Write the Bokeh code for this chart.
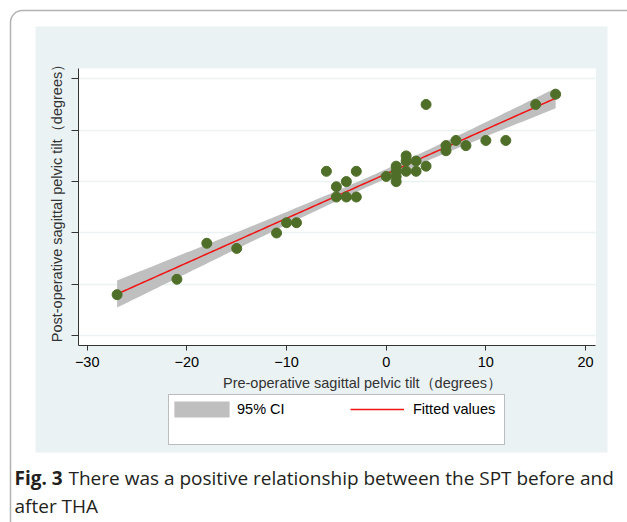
import numpy as np
from bokeh.plotting import figure
from bokeh.models import (BoxAnnotation, Label, Legend, LegendItem, FixedTicker,
                          Range1d, LinearAxis, Grid)
from bokeh.embed import file_html
from bokeh.resources import INLINE

# ---- data ----
pre_spt = [-27, -21, -18, -15, -11, -10, -9, -6, -5, -5, -4, -4, -3, -3, 0,
           1, 1, 1, 1, 2, 2, 2, 3, 3, 4, 4, 6, 6, 7, 8, 10, 12, 15, 17]
post_spt = [-22, -19, -12, -13, -10, -8, -8, 2, -1, -3, 0, -3, 2, -3, 1,
            3, 2, 1, 0, 5, 4, 2, 4, 2, 15, 3, 7, 6, 8, 7, 8, 8, 15, 17]
x_ticks = [-30, -20, -10, 0, 10, 20]
y_ticks = [-30, -20, -10, 0, 10, 20]
x_title = "Pre-operative sagittal pelvic tilt（degrees）"
y_title = "Post-operative sagittal pelvic tilt（degrees）"
legend_labels = ["95% CI", "Fitted values"]
caption_bold = "Fig. 3"
caption_line1 = "There was a positive relationship between the SPT before and"
caption_line2 = "after THA"

# ---- linear fit with 95% CI of the mean ----
x = np.array(pre_spt, dtype=float)
y = np.array(post_spt, dtype=float)
n = len(x)
b, a = np.polyfit(x, y, 1)
resid = y - (a + b * x)
s = np.sqrt(np.sum(resid ** 2) / (n - 2))
sxx = np.sum((x - x.mean()) ** 2)
t975 = 2.0369
xg = np.linspace(x.min(), x.max(), 120)
yhat = a + b * xg
half = t975 * s * np.sqrt(1.0 / n + (xg - x.mean()) ** 2 / sxx)

BG = "#eaf2f3"
FONT = "Liberation Sans"
W, H = 627, 522
# plot region (data units) and whole-canvas ranges
XLO, XHI = -30.87, 21.04
YLO, YHI = -31.9, 22.0

p = figure(width=W, height=H, output_backend="svg", toolbar_location=None,
           x_range=Range1d(-38.70, 24.21), y_range=Range1d(-66.32, 35.23),
           x_axis_type=None, y_axis_type=None,
           min_border=0, min_border_left=0, min_border_right=0,
           min_border_top=0, min_border_bottom=0,
           background_fill_color="white", border_fill_color="white",
           outline_line_color=None)

def canvas_box(l, r, t, btm, **kw):
    return BoxAnnotation(left=l, right=r, top=t, bottom=btm,
                         left_units="canvas", right_units="canvas",
                         top_units="canvas", bottom_units="canvas", **kw)

# light graph region and white plot region
p.add_layout(canvas_box(35, 607, 26, 452, fill_color=BG, fill_alpha=1,
                        line_alpha=0, level="underlay"))
p.add_layout(BoxAnnotation(left=XLO, right=XHI, bottom=YLO, top=YHI,
                           fill_color="white", fill_alpha=1, line_alpha=0,
                           level="underlay"))
p.add_layout(Grid(dimension=1, ticker=FixedTicker(ticks=y_ticks),
                  bounds=(YLO, YHI), cross_bounds=(XLO, XHI),
                  grid_line_color=BG, grid_line_width=1.5))

xaxis = LinearAxis(fixed_location=YLO, bounds=(XLO, XHI),
                   ticker=FixedTicker(ticks=x_ticks))
yaxis = LinearAxis(fixed_location=XLO, bounds=(YLO, YHI),
                   ticker=FixedTicker(ticks=y_ticks),
                   major_label_overrides={t: "" for t in y_ticks})
for ax in (xaxis, yaxis):
    ax.axis_line_color = "#333333"
    ax.major_tick_line_color = "#333333"
    ax.minor_tick_line_color = None
    ax.major_tick_in = 0
xaxis.major_tick_out = 5
yaxis.major_tick_out = 7
xaxis.major_label_text_font = FONT
xaxis.major_label_text_font_size = "14.5px"
xaxis.major_label_text_color = "black"
xaxis.major_label_standoff = 6
p.add_layout(xaxis, "below")
p.add_layout(yaxis, "left")

band = p.varea(x=xg, y1=yhat - half, y2=yhat + half, fill_color="#bfbfbf")
fit = p.line(xg, yhat, line_color="#f01414", line_width=1.5)
p.scatter(pre_spt, post_spt, size=10, fill_color="#4f6f28", line_color="#4f6f28")

# legend box
p.add_layout(canvas_box(168, 504, 394, 444, fill_color="white", fill_alpha=1,
                        line_color="#333333", line_width=1))
common = dict(orientation="horizontal", padding=0, margin=0, border_line_alpha=0,
              background_fill_alpha=0, label_text_font=FONT,
              label_text_font_size="14.5px", label_text_color="black")
legend_ci = Legend(items=[LegendItem(label=legend_labels[0], renderers=[band])],
                   location=(167, 103), glyph_width=69, glyph_height=20,
                   label_standoff=1, **common)
legend_fit = Legend(items=[LegendItem(label=legend_labels[1], renderers=[fit])],
                    location=(350, 105), glyph_width=54, glyph_height=16,
                    label_standoff=9, **common)
p.add_layout(legend_ci, "center")
p.add_layout(legend_fit, "center")

# axis titles
p.add_layout(Label(x=362, y=382, x_units="canvas", y_units="canvas", text=x_title,
                   text_align="center", text_baseline="middle", text_font=FONT,
                   text_font_size="14.5px", text_color="#333333"))
p.add_layout(Label(x=56, y=199, x_units="canvas", y_units="canvas", text=y_title,
                   angle=np.pi / 2, text_align="center", text_baseline="middle",
                   text_font=FONT, text_font_size="14.5px", text_color="#333333"))

# rounded outer frame
p.add_layout(canvas_box(10, 720, 10, 720, fill_alpha=0, line_color="black",
                        line_width=1.5, border_radius=12))

# caption
p.add_layout(Label(x=14, y=477, x_units="canvas", y_units="canvas", text=caption_bold,
                   text_align="left", text_baseline="middle", text_font="Open Sans",
                   text_font_style="bold", text_font_size="19px", text_color="#231f20"))
p.add_layout(Label(x=68, y=477, x_units="canvas", y_units="canvas", text=caption_line1,
                   text_align="left", text_baseline="middle", text_font="Open Sans",
                   text_font_size="19px", text_color="#231f20"))
p.add_layout(Label(x=14, y=505, x_units="canvas", y_units="canvas", text=caption_line2,
                   text_align="left", text_baseline="middle", text_font="Open Sans",
                   text_font_size="19px", text_color="#231f20"))

open("out.html", "w").write(file_html(p, INLINE))
